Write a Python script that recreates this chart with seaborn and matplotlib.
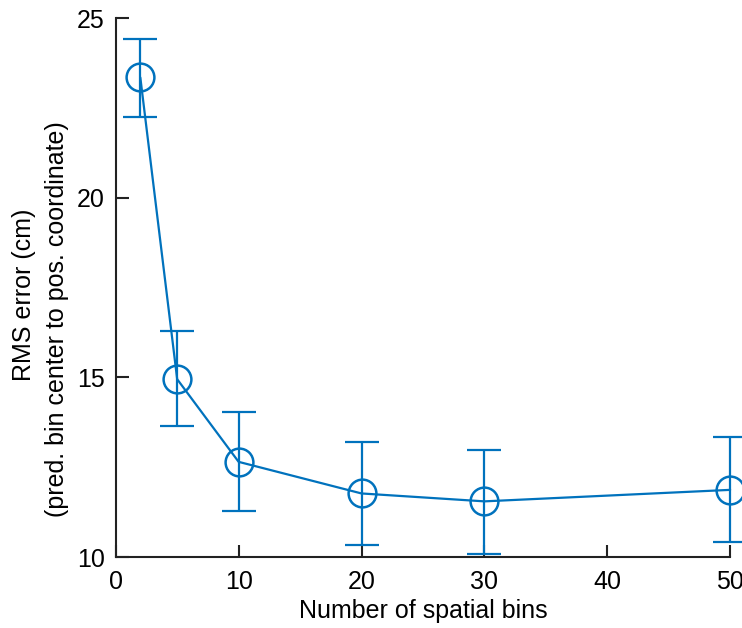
import matplotlib
matplotlib.use("Agg")
import matplotlib.pyplot as plt
import seaborn as sns
import pandas as pd

# RMS decoding error versus number of spatial bins
n_bins = [2, 5, 10, 20, 30, 50]
rms_error = [23.35, 14.95, 12.65, 11.77, 11.55, 11.87]
err_upper = [24.42, 16.28, 14.03, 13.19, 12.97, 13.35]
err_lower = [22.25, 13.65, 11.28, 10.34, 10.08, 10.42]

x_ticks = [0, 10, 20, 30, 40, 50]
y_ticks = [10, 15, 20, 25]

sns.set_style("ticks")
plt.rcParams["font.family"] = ["Liberation Sans", "DejaVu Sans"]
plt.rcParams["text.color"] = "black"
plt.rcParams["axes.labelcolor"] = "black"

blue = "#0072BD"
fs = 18
df = pd.DataFrame({"bins": n_bins, "rms": rms_error})

fig = plt.figure(figsize=(7.42, 6.28), dpi=100)
ax = fig.add_axes([0.156, 0.113, 0.828, 0.858])

yerr = [[r - lo for r, lo in zip(rms_error, err_lower)],
        [hi - r for r, hi in zip(rms_error, err_upper)]]
ax.errorbar(n_bins, rms_error, yerr=yerr, fmt="none", ecolor=blue,
            elinewidth=1.6, capsize=12, capthick=1.6, clip_on=False, zorder=3)

sns.lineplot(data=df, x="bins", y="rms", ax=ax, color=blue, linewidth=1.6,
             marker="o", markersize=20, markerfacecolor="none",
             markeredgecolor=blue, markeredgewidth=1.8, clip_on=False, zorder=4)

ax.set_xlim(0, 50)
ax.set_ylim(10, 25)
ax.set_xticks(x_ticks)
ax.set_yticks(y_ticks)
ax.tick_params(direction="in", length=9, width=1.5, labelsize=fs,
               colors="#222222", labelcolor="black")
ax.tick_params(axis="x", pad=9)
ax.tick_params(axis="y", pad=8)
for side in ("top", "right"):
    ax.spines[side].set_visible(False)
for side in ("left", "bottom"):
    ax.spines[side].set_linewidth(1.5)
    ax.spines[side].set_color("#222222")

ax.set_xlabel("Number of spatial bins", fontsize=fs, labelpad=4)
ax.set_ylabel("")

# two-line y-axis title, each line centred on its own
fig.text(24 / 742, 1 - 295 / 628, "RMS error (cm)", rotation=90,
         ha="center", va="center", fontsize=fs)
fig.text(57 / 742, 1 - 319 / 628, "(pred. bin center to pos. coordinate)",
         rotation=90, ha="center", va="center", fontsize=fs)

fig.savefig("out.png", dpi=100)
